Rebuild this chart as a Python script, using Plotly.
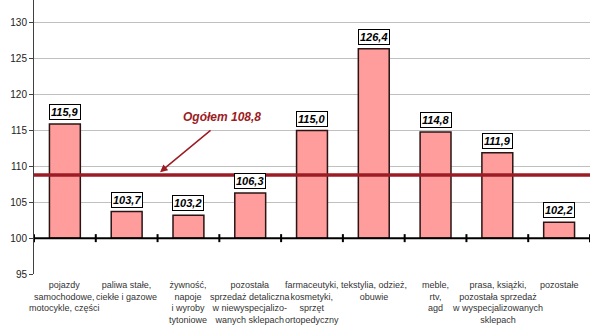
import plotly.graph_objects as go

# Retail sales indices by enterprise group (previous year = 100)
categories = [
    "pojazdy<br>samochodowe,<br>motocykle, części",
    "paliwa stałe,<br>ciekłe i gazowe",
    "żywność,<br>napoje<br>i wyroby<br>tytoniowe",
    "pozostała<br>sprzedaż detaliczna<br>w niewyspecjalizo-<br>wanych sklepach",
    "farmaceutyki,<br>kosmetyki,<br>sprzęt<br>ortopedyczny",
    "tekstylia, odzież,<br>obuwie",
    "meble,<br>rtv,<br>agd",
    "prasa, książki,<br>pozostała sprzedaż<br>w wyspecjalizowanych<br>sklepach",
    "pozostałe",
]
values = [115.9, 103.7, 103.2, 106.3, 115.0, 126.4, 114.8, 111.9, 102.2]
total = 108.8
base_level = 100
y_ticks = [95, 100, 105, 110, 115, 120, 125, 130]

FONT = "Liberation Sans, Arial, sans-serif"
DARK_RED = "#9B1C24"


def pl(v):
    return f"{v:.1f}".replace(".", ",")


xs = list(range(len(categories)))

fig = go.Figure()
fig.add_trace(go.Bar(
    x=xs,
    y=[v - base_level for v in values],
    base=base_level,
    width=0.5,
    marker=dict(color="#FF9C9C", line=dict(color="#2a1414", width=1.5)),
    hoverinfo="skip",
))

# overall index line
fig.add_shape(type="line", xref="paper", x0=0, x1=1, yref="y", y0=total, y1=total,
              line=dict(color=DARK_RED, width=3.5), layer="above")

# horizontal axis crossing at 100, with cross ticks at category boundaries
fig.add_shape(type="line", xref="paper", x0=0, x1=1, yref="y", y0=base_level, y1=base_level,
              line=dict(color="black", width=2), layer="above")
for b in range(len(categories) + 1):
    fig.add_shape(type="line", xref="x", x0=b - 0.5, x1=b - 0.5,
                  yref="y", ysizemode="pixel", yanchor=base_level, y0=-4, y1=4,
                  line=dict(color="black", width=2), layer="above")

annotations = []
for x, v in zip(xs, values):
    annotations.append(dict(
        x=x, y=v, xref="x", yref="y", text=f"<b><i>{pl(v)}</i></b>",
        showarrow=False, yanchor="bottom", yshift=4,
        font=dict(family=FONT, size=11, color="black"),
        bgcolor="white", bordercolor="black", borderwidth=1, borderpad=1,
    ))
for x, c in zip(xs, categories):
    annotations.append(dict(
        x=x, y=0, xref="x", yref="paper", text=c, showarrow=False,
        yanchor="top", yshift=-4, align="center",
        font=dict(family=FONT, size=9, color="#333333"),
    ))

annotations.append(dict(
    x=2.54, y=116.9, xref="x", yref="y", text=f"<b><i>Ogółem {pl(total)}</i></b>",
    showarrow=False, font=dict(family=FONT, size=12, color=DARK_RED),
))
annotations.append(dict(
    x=1.54, y=109.2, xref="x", yref="y", text="", showarrow=True,
    ax=52, ay=-43, arrowhead=2, arrowsize=1, arrowwidth=1.5, arrowcolor=DARK_RED,
))

fig.update_layout(
    width=600, height=332,
    margin=dict(l=34, r=10, t=0, b=58),
    paper_bgcolor="white", plot_bgcolor="white",
    showlegend=False,
    bargap=0.5,
    annotations=annotations,
    xaxis=dict(range=[-0.5, len(categories) - 0.5], showticklabels=False,
               showgrid=False, zeroline=False, showline=False, ticks=""),
    yaxis=dict(range=[95, 133.2], tickvals=y_ticks, showgrid=True,
               gridcolor="#C0C0C0", gridwidth=1, zeroline=False,
               showline=True, linecolor="#404040", linewidth=1,
               ticks="outside", ticklen=4, tickcolor="#404040",
               tickfont=dict(family=FONT, size=10, color="#222222")),
)

fig.write_html("out.html")
